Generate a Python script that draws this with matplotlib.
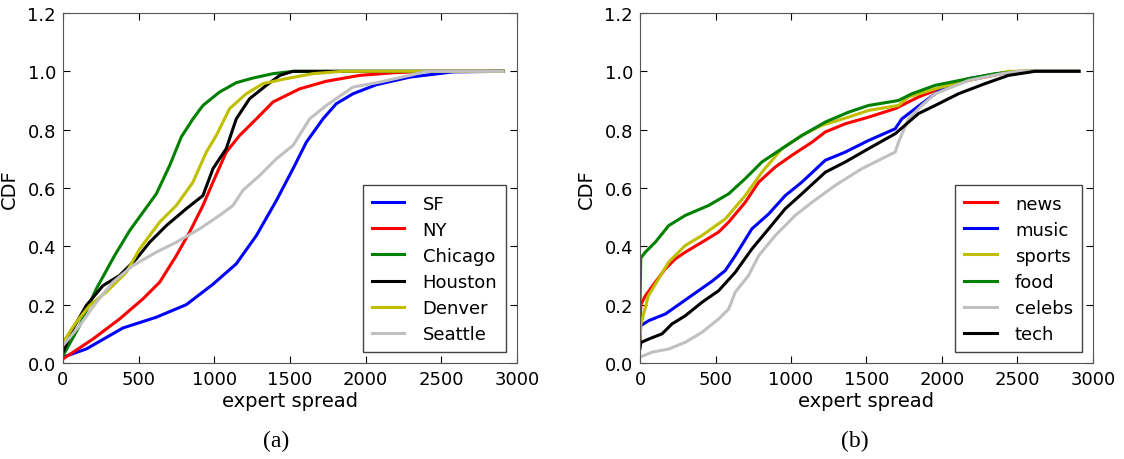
import numpy as np
import matplotlib
matplotlib.use("Agg")
from matplotlib import pyplot as plt

# ---- panel (a): cities
sf_x = [0, 154, 396, 617, 815, 991, 1145, 1278, 1410, 1520, 1608, 1718, 1806, 1916, 2070, 2291, 2577, 2907]
sf_y = [0.02, 0.048, 0.12, 0.157, 0.2, 0.27, 0.34, 0.437, 0.557, 0.666, 0.757, 0.837, 0.889, 0.923, 0.954, 0.98, 0.998, 1.0]
ny_x = [0, 198, 374, 529, 639, 749, 837, 925, 991, 1079, 1167, 1278, 1388, 1564, 1740, 1960, 2181, 2401, 2907]
ny_y = [0.014, 0.082, 0.151, 0.22, 0.277, 0.368, 0.449, 0.54, 0.62, 0.723, 0.78, 0.837, 0.895, 0.94, 0.966, 0.986, 0.995, 1.0, 1.0]
chi_x = [0, 110, 220, 341, 441, 529, 617, 705, 782, 859, 925, 1035, 1145, 1256, 1388, 1520, 2907]
chi_y = [0.025, 0.128, 0.254, 0.368, 0.454, 0.517, 0.58, 0.677, 0.775, 0.837, 0.883, 0.929, 0.961, 0.977, 0.992, 1.0, 1.0]
hou_x = [0, 66, 154, 264, 374, 485, 573, 683, 815, 925, 991, 1079, 1145, 1233, 1344, 1432, 1520, 2907]
hou_y = [0.037, 0.117, 0.197, 0.265, 0.3, 0.357, 0.414, 0.471, 0.529, 0.574, 0.666, 0.735, 0.837, 0.906, 0.952, 0.986, 1.0, 1.0]
den_x = [0, 88, 176, 286, 419, 507, 639, 749, 859, 947, 1013, 1101, 1211, 1322, 1476, 1652, 1850, 2907]
den_y = [0.071, 0.14, 0.197, 0.243, 0.311, 0.391, 0.483, 0.54, 0.62, 0.723, 0.78, 0.872, 0.923, 0.958, 0.975, 0.992, 1.0, 1.0]
sea_x = [0, 110, 220, 330, 462, 617, 749, 903, 1035, 1123, 1189, 1300, 1410, 1520, 1630, 1740, 1916, 2093, 2291, 2401, 2907]
sea_y = [0.06, 0.128, 0.208, 0.277, 0.334, 0.38, 0.414, 0.46, 0.506, 0.54, 0.592, 0.643, 0.7, 0.746, 0.837, 0.883, 0.946, 0.963, 0.986, 1.0, 1.0]

# ---- panel (b): topics
news_x = [0, 5, 35, 101, 168, 234, 300, 410, 521, 587, 697, 786, 896, 1006, 1139, 1227, 1359, 1514, 1690, 1844, 1999, 2176, 2396, 2507, 2907]
news_y = [0.07, 0.2, 0.23, 0.277, 0.323, 0.357, 0.38, 0.414, 0.449, 0.483, 0.551, 0.62, 0.672, 0.712, 0.757, 0.792, 0.82, 0.843, 0.872, 0.912, 0.943, 0.969, 0.992, 1.0, 1.0]
music_x = [0, 5, 57, 168, 256, 366, 476, 565, 631, 741, 852, 962, 1072, 1227, 1359, 1514, 1690, 1734, 1866, 1999, 2176, 2396, 2600, 2907]
music_y = [0.08, 0.128, 0.145, 0.168, 0.2, 0.24, 0.28, 0.317, 0.368, 0.46, 0.511, 0.574, 0.62, 0.695, 0.723, 0.763, 0.803, 0.837, 0.889, 0.94, 0.975, 0.994, 1.0, 1.0]
sports_x = [0, 5, 55, 190, 300, 410, 565, 697, 807, 940, 1072, 1205, 1381, 1514, 1712, 1778, 1955, 2176, 2440, 2907]
sports_y = [0.08, 0.13, 0.23, 0.346, 0.403, 0.437, 0.494, 0.574, 0.654, 0.735, 0.78, 0.815, 0.843, 0.866, 0.883, 0.912, 0.94, 0.969, 1.0, 1.0]
food_x = [0, 5, 35, 101, 190, 300, 454, 587, 697, 807, 940, 1072, 1227, 1381, 1514, 1712, 1800, 1955, 2176, 2352, 2550, 2907]
food_y = [0.2, 0.36, 0.38, 0.414, 0.471, 0.506, 0.54, 0.58, 0.632, 0.689, 0.735, 0.78, 0.826, 0.86, 0.883, 0.9, 0.923, 0.952, 0.975, 0.992, 1.0, 1.0]
celebs_x = [0, 79, 190, 300, 410, 521, 587, 631, 719, 786, 896, 1028, 1139, 1293, 1469, 1646, 1690, 1712, 1778, 1866, 1955, 2176, 2396, 2507, 2907]
celebs_y = [0.02, 0.037, 0.048, 0.071, 0.105, 0.151, 0.185, 0.243, 0.3, 0.368, 0.437, 0.506, 0.551, 0.609, 0.666, 0.712, 0.723, 0.757, 0.837, 0.883, 0.923, 0.969, 0.992, 1.0, 1.0]
tech_x = [0, 5, 57, 146, 212, 300, 410, 521, 631, 741, 852, 962, 1072, 1227, 1359, 1514, 1690, 1844, 1955, 2109, 2286, 2440, 2617, 2907]
tech_y = [0.05, 0.07, 0.082, 0.1, 0.134, 0.162, 0.208, 0.248, 0.311, 0.391, 0.46, 0.529, 0.58, 0.654, 0.689, 0.735, 0.786, 0.855, 0.883, 0.923, 0.958, 0.986, 1.0, 1.0]

city_series = [("SF", sf_x, sf_y, "b"), ("NY", ny_x, ny_y, "r"), ("Chicago", chi_x, chi_y, "g"),
               ("Houston", hou_x, hou_y, "k"), ("Denver", den_x, den_y, "y"), ("Seattle", sea_x, sea_y, "#c0c0c0")]
topic_series = [("news", news_x, news_y, "r"), ("music", music_x, music_y, "b"), ("sports", sports_x, sports_y, "y"),
                ("food", food_x, food_y, "g"), ("celebs", celebs_x, celebs_y, "#c0c0c0"), ("tech", tech_x, tech_y, "k")]

plt.rcParams["font.family"] = "DejaVu Sans"
fig = plt.figure(figsize=(11.24, 4.6), dpi=100)
ax1 = fig.add_axes([0.056, 0.2087, 0.404, 0.7609])
ax2 = fig.add_axes([0.5694, 0.2087, 0.4030, 0.7609])

for ax, series, cap, cx in [(ax1, city_series, "(a)", 0.47), (ax2, topic_series, "(b)", 0.475)]:
    for name, xs, ys, c in series:
        ax.plot(xs, ys, color=c, lw=2.2, label=name)
    ax.set_xlim(0, 3000)
    ax.set_ylim(0, 1.2)
    ax.set_xticks(np.arange(0, 3001, 500))
    ax.set_yticks(np.arange(0, 1.21, 0.2))
    ax.set_yticklabels(["%.1f" % v for v in np.arange(0, 1.21, 0.2)])
    ax.tick_params(direction="in", top=True, right=True, labelsize=13, length=5, pad=5)
    ax.set_xlabel("expert spread", fontsize=14, labelpad=2)
    ax.set_ylabel("CDF", fontsize=14, labelpad=6)
    for s in ax.spines.values():
        s.set_color("#555555")
    leg = ax.legend(loc="lower right", fontsize=13, fancybox=False, framealpha=1,
                    handlelength=1.8, handletextpad=1.0, borderpad=0.5, labelspacing=0.45,
                    borderaxespad=0.6)
    leg.get_frame().set_edgecolor("#444444")
    ax.text(cx, -0.22, cap, transform=ax.transAxes, ha="center", va="center",
            fontsize=17, family="Liberation Serif")

fig.savefig("out.png", dpi=100)
